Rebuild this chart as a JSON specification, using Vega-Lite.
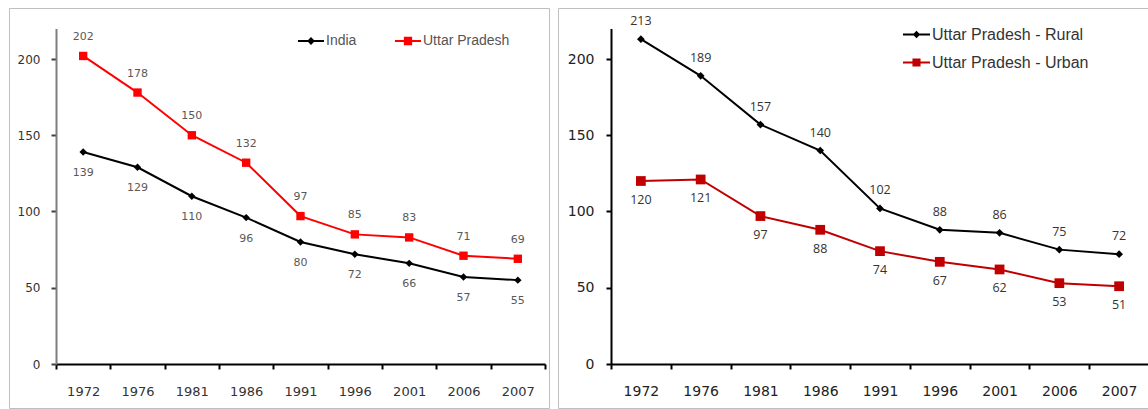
{
  "$schema": "https://vega.github.io/schema/vega-lite/v6.json",
  "padding": {"left": 8, "top": 7, "right": 0, "bottom": 0},
  "spacing": 7,
  "background": "white",
  "config": {
    "view": {"stroke": "#bfbfbf", "strokeWidth": 1},
    "axis": {"grid": false, "title": null}
  },
  "resolve": {"scale": {"color": "independent"}, "legend": {"color": "independent"}},
  "datasets": {
    "left": [
      {"year": "1972", "series": "India", "value": 139},
      {"year": "1976", "series": "India", "value": 129},
      {"year": "1981", "series": "India", "value": 110},
      {"year": "1986", "series": "India", "value": 96},
      {"year": "1991", "series": "India", "value": 80},
      {"year": "1996", "series": "India", "value": 72},
      {"year": "2001", "series": "India", "value": 66},
      {"year": "2006", "series": "India", "value": 57},
      {"year": "2007", "series": "India", "value": 55},
      {"year": "1972", "series": "Uttar Pradesh", "value": 202},
      {"year": "1976", "series": "Uttar Pradesh", "value": 178},
      {"year": "1981", "series": "Uttar Pradesh", "value": 150},
      {"year": "1986", "series": "Uttar Pradesh", "value": 132},
      {"year": "1991", "series": "Uttar Pradesh", "value": 97},
      {"year": "1996", "series": "Uttar Pradesh", "value": 85},
      {"year": "2001", "series": "Uttar Pradesh", "value": 83},
      {"year": "2006", "series": "Uttar Pradesh", "value": 71},
      {"year": "2007", "series": "Uttar Pradesh", "value": 69}
    ],
    "right": [
      {"year": "1972", "group": "Uttar Pradesh - Rural", "value": 213},
      {"year": "1976", "group": "Uttar Pradesh - Rural", "value": 189},
      {"year": "1981", "group": "Uttar Pradesh - Rural", "value": 157},
      {"year": "1986", "group": "Uttar Pradesh - Rural", "value": 140},
      {"year": "1991", "group": "Uttar Pradesh - Rural", "value": 102},
      {"year": "1996", "group": "Uttar Pradesh - Rural", "value": 88},
      {"year": "2001", "group": "Uttar Pradesh - Rural", "value": 86},
      {"year": "2006", "group": "Uttar Pradesh - Rural", "value": 75},
      {"year": "2007", "group": "Uttar Pradesh - Rural", "value": 72},
      {"year": "1972", "group": "Uttar Pradesh - Urban", "value": 120},
      {"year": "1976", "group": "Uttar Pradesh - Urban", "value": 121},
      {"year": "1981", "group": "Uttar Pradesh - Urban", "value": 97},
      {"year": "1986", "group": "Uttar Pradesh - Urban", "value": 88},
      {"year": "1991", "group": "Uttar Pradesh - Urban", "value": 74},
      {"year": "1996", "group": "Uttar Pradesh - Urban", "value": 67},
      {"year": "2001", "group": "Uttar Pradesh - Urban", "value": 62},
      {"year": "2006", "group": "Uttar Pradesh - Urban", "value": 53},
      {"year": "2007", "group": "Uttar Pradesh - Urban", "value": 51}
    ]
  },
  "hconcat": [
    {
      "width": 540,
      "height": 400,
      "data": {"name": "left"},
      "encoding": {
        "x": {
          "field": "year", "type": "ordinal", "sort": null,
          "scale": {"type": "band", "range": [47, 536], "paddingInner": 0, "paddingOuter": 0},
          "axis": {
            "offset": -44, "tickBand": "extent", "labelAngle": 0,
            "domainColor": "#000000", "domainWidth": 2,
            "tickColor": "#000000", "tickWidth": 2, "tickSize": 5,
            "labelFont": "DejaVu Sans", "labelFontSize": 13, "labelColor": "#333333", "labelPadding": 16
          }
        },
        "y": {
          "field": "value", "type": "quantitative",
          "scale": {"domain": [0, 220], "range": [356, 20.5], "nice": false, "zero": true},
          "axis": {
            "offset": -47, "values": [0, 50, 100, 150, 200],
            "domainColor": "#7f7f7f", "domainWidth": 2,
            "tickColor": "#404040", "tickWidth": 2, "tickSize": 5,
            "labelFont": "DejaVu Sans", "labelFontSize": 12, "labelColor": "#333333", "labelPadding": 11
          }
        }
      },
      "layer": [
        {
          "mark": {"type": "line", "strokeWidth": 2},
          "encoding": {
            "color": {
              "field": "series", "type": "nominal",
              "scale": {"domain": ["India", "Uttar Pradesh"], "range": ["#000000", "#ff0000"]},
              "legend": {
                "orient": "none", "legendX": 289, "legendY": 20, "direction": "horizontal",
                "title": null, "labelFont": "Liberation Sans", "labelFontSize": 14, "labelColor": "#555555",
                "labelOffset": 2, "columnPadding": 38, "symbolSize": 676, "symbolStrokeWidth": 0,
                "encode": {
                  "symbols": {
                    "update": {
                      "shape": {"signal": "datum.value === 'India' ? 'M-1,-0.07H1V0.07H-1Z M0,-0.3L0.3,0L0,0.3L-0.3,0Z' : 'M-1,-0.07H1V0.07H-1Z M-0.32,-0.32H0.32V0.32H-0.32Z'"},
                      "fill": {"signal": "datum.value === 'India' ? '#000000' : '#ff0000'"},
                      "strokeWidth": {"value": 0},
                      "opacity": {"value": 1}
                    }
                  }
                }
              }
            }
          }
        },
        {
          "mark": {"type": "point", "filled": true, "opacity": 1},
          "encoding": {
            "color": {"condition": {"test": "datum.series === 'India'", "value": "#000000"}, "value": "#ff0000"},
            "shape": {"condition": {"test": "datum.series === 'India'", "value": "diamond"}, "value": "square"},
            "size": {"condition": {"test": "datum.series === 'India'", "value": 55}, "value": 70}
          }
        },
        {
          "transform": [{"filter": "datum.series === 'India'"}],
          "mark": {"type": "text", "dy": 21, "font": "DejaVu Sans", "fontSize": 11, "color": "#595959", "baseline": "middle"},
          "encoding": {"text": {"field": "value", "type": "quantitative"}}
        },
        {
          "transform": [{"filter": "datum.series === 'Uttar Pradesh'"}],
          "mark": {"type": "text", "dy": -19, "font": "DejaVu Sans", "fontSize": 11, "color": "#595959", "baseline": "middle"},
          "encoding": {"text": {"field": "value", "type": "quantitative"}}
        }
      ]
    },
    {
      "width": 591,
      "height": 400,
      "data": {"name": "right"},
      "encoding": {
        "x": {
          "field": "year", "type": "ordinal", "sort": null,
          "scale": {"type": "band", "range": [53, 591], "paddingInner": 0, "paddingOuter": 0},
          "axis": {
            "offset": -44, "tickBand": "extent", "labelAngle": 0,
            "domainColor": "#000000", "domainWidth": 2,
            "tickColor": "#000000", "tickWidth": 2, "tickSize": 5,
            "labelFont": "DejaVu Sans", "labelFontSize": 14, "labelColor": "#222222", "labelPadding": 15
          }
        },
        "y": {
          "field": "value", "type": "quantitative",
          "scale": {"domain": [0, 220], "range": [356, 20.5], "nice": false, "zero": true},
          "axis": {
            "offset": -53, "values": [0, 50, 100, 150, 200],
            "domainColor": "#000000", "domainWidth": 2,
            "tickColor": "#000000", "tickWidth": 2, "tickSize": 5,
            "labelFont": "DejaVu Sans", "labelFontSize": 14, "labelColor": "#222222", "labelPadding": 12
          }
        }
      },
      "layer": [
        {
          "mark": {"type": "line", "strokeWidth": 2},
          "encoding": {
            "color": {
              "field": "group", "type": "nominal",
              "scale": {"domain": ["Uttar Pradesh - Rural", "Uttar Pradesh - Urban"], "range": ["#000000", "#c00000"]},
              "legend": {
                "orient": "none", "legendX": 345, "legendY": 13, "direction": "vertical",
                "title": null, "labelFont": "Liberation Sans", "labelFontSize": 16, "labelColor": "#333333",
                "labelOffset": 2, "rowPadding": 6, "symbolSize": 729, "symbolStrokeWidth": 0,
                "encode": {
                  "symbols": {
                    "update": {
                      "shape": {"signal": "datum.value === 'Uttar Pradesh - Rural' ? 'M-1,-0.07H1V0.07H-1Z M0,-0.28L0.28,0L0,0.28L-0.28,0Z' : 'M-1,-0.07H1V0.07H-1Z M-0.3,-0.3H0.3V0.3H-0.3Z'"},
                      "fill": {"signal": "datum.value === 'Uttar Pradesh - Rural' ? '#000000' : '#c00000'"},
                      "strokeWidth": {"value": 0},
                      "opacity": {"value": 1}
                    }
                  }
                }
              }
            }
          }
        },
        {
          "mark": {"type": "point", "filled": true, "opacity": 1},
          "encoding": {
            "color": {"condition": {"test": "datum.group === 'Uttar Pradesh - Rural'", "value": "#000000"}, "value": "#c00000"},
            "shape": {"condition": {"test": "datum.group === 'Uttar Pradesh - Rural'", "value": "diamond"}, "value": "square"},
            "size": {"condition": {"test": "datum.group === 'Uttar Pradesh - Rural'", "value": 60}, "value": 95}
          }
        },
        {
          "transform": [{"filter": "datum.group === 'Uttar Pradesh - Rural'"}],
          "mark": {"type": "text", "dy": -18, "font": "Open Sans", "fontSize": 12.5, "color": "#333333", "baseline": "middle"},
          "encoding": {"text": {"field": "value", "type": "quantitative"}}
        },
        {
          "transform": [{"filter": "datum.group === 'Uttar Pradesh - Urban'"}],
          "mark": {"type": "text", "dy": 19, "font": "Open Sans", "fontSize": 12.5, "color": "#333333", "baseline": "middle"},
          "encoding": {"text": {"field": "value", "type": "quantitative"}}
        }
      ]
    }
  ]
}
